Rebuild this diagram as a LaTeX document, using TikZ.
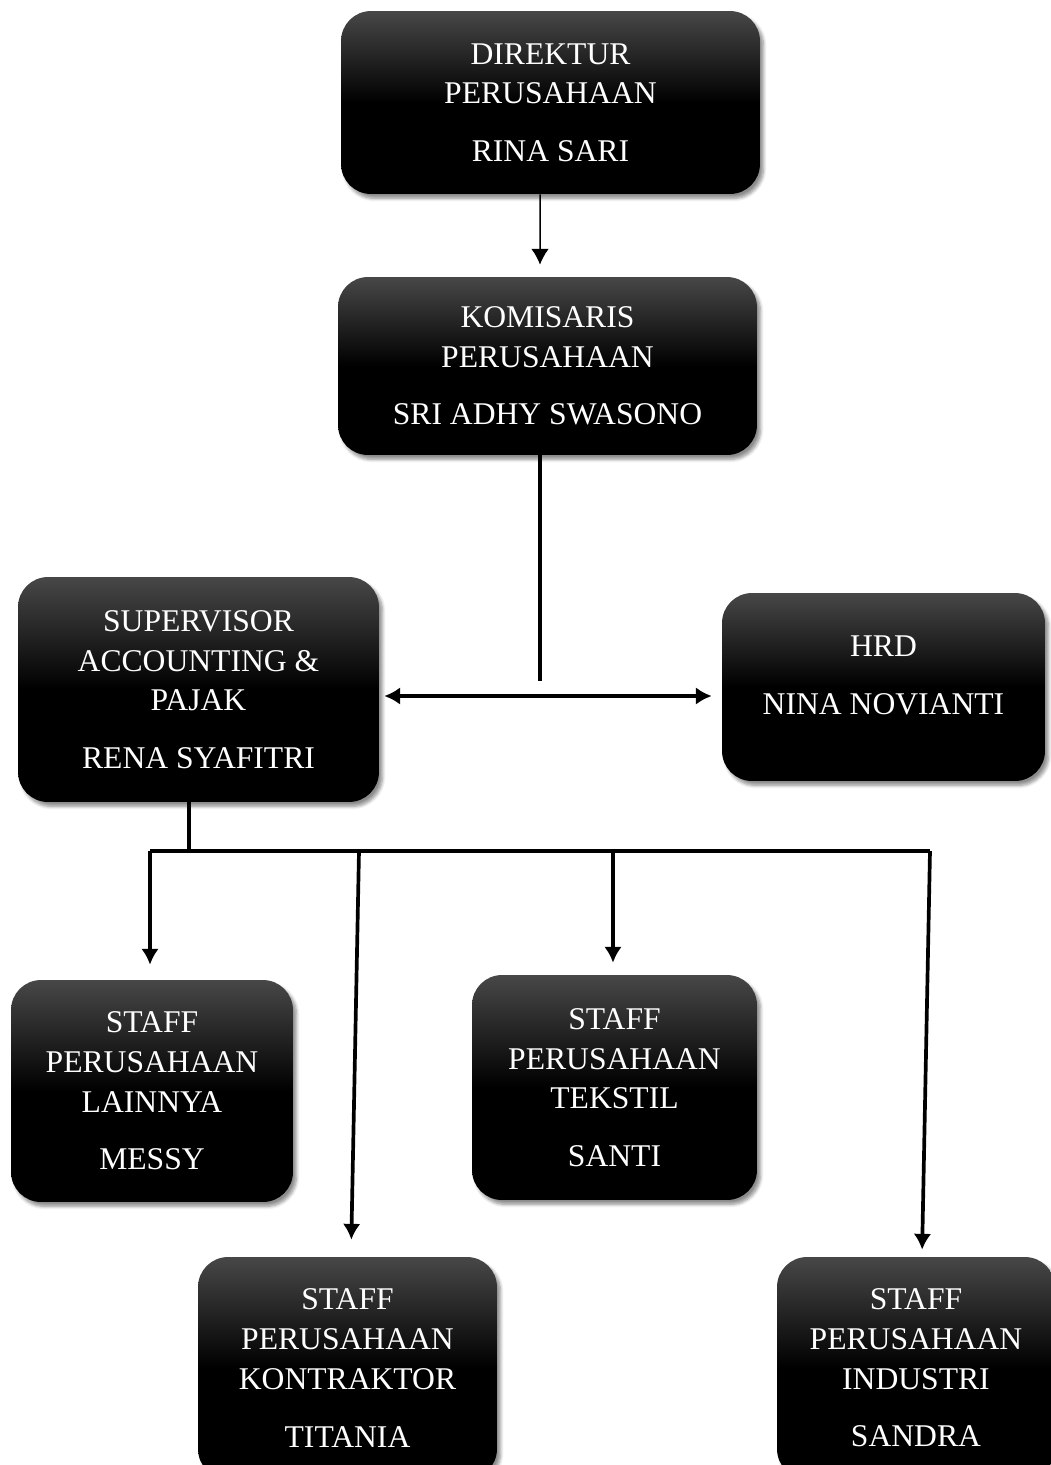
\documentclass[tikz,border=0pt]{standalone}
\usepackage{fontspec}
\setmainfont{Liberation Serif}
\usetikzlibrary{arrows.meta,shadows.blur}

\tikzset{
  box/.style={rounded corners=0.6cm, top color=black!72, bottom color=black, middle color=black,
    text=white, align=center, font=\fontsize{18}{22.7}\selectfont,
    blur shadow={shadow xshift=2pt, shadow yshift=-2.5pt, shadow blur steps=6, shadow opacity=45}},
  thinline/.style={line width=0.85pt},
  thickline/.style={line width=2.1pt},
  >={Latex[length=9pt,width=10pt]}
}

\begin{document}
\begin{tikzpicture}[x=0.02cm, y=-0.02cm]
        \useasboundingbox (0,0) rectangle (1051,1465);
        % Direktur
        \node (dir) [box, minimum width=8.38cm, minimum height=3.66cm] at (550.5,102.5)
              {DIREKTUR\\PERUSAHAAN\\[10pt]RINA SARI};
        % Komisaris
        \node (kom) [box, minimum width=8.38cm, minimum height=3.56cm] at (547.5,366)
              {KOMISARIS\\PERUSAHAAN\\[10pt]SRI ADHY SWASONO};
        \draw[thinline, ->] ([xshift=-0.21cm]dir.south) -- ([xshift=-0.15cm, yshift=0.24cm]kom.north);
        % Supervisor
        \node (sup) [box, minimum width=7.22cm, minimum height=4.5cm] at (198.5,689.5)
              {SUPERVISOR\\ACCOUNTING \&\\PAJAK\\[10pt]RENA SYAFITRI};
        % HRD
        \node (hrd) [box, minimum width=6.46cm, minimum height=3.76cm] at (883.5,687)
              {HRD\\[10pt]NINA NOVIANTI\\[-9pt]};
        % Komisaris to supervisor and HRD
        \coordinate (mid) at (540,696);
        \draw[thickline] (kom.south -| mid) -- ([yshift=0.3cm]mid);
        \draw[thickline, <->, shorten <=0.1cm, shorten >=0.2cm] (sup.east |- mid) -- (hrd.west |- mid);
        % Staff
        \node (lain) [box, minimum width=5.64cm, minimum height=4.44cm] at (152,1091)
              {STAFF\\PERUSAHAAN\\LAINNYA\\[10pt]MESSY};
        \node (teks) [box, minimum width=5.7cm, minimum height=4.5cm] at (614.5,1087.5)
              {STAFF\\PERUSAHAAN\\TEKSTIL\\[10pt]SANTI};
        \node (kon) [box, minimum width=5.98cm, minimum height=4.44cm] at (347.5,1368)
              {STAFF\\PERUSAHAAN\\KONTRAKTOR\\[10pt]TITANIA};
        \node (ind) [box, minimum width=5.56cm, minimum height=4.44cm] at (916,1368)
              {STAFF\\PERUSAHAAN\\INDUSTRI\\[10pt]SANDRA};
        % Supervisor to staff
        \coordinate (b1) at (150,851);
        \coordinate (b2) at (359,851);
        \coordinate (b3) at (613,851);
        \coordinate (b4) at (930,851);
        \draw[thickline] (sup.south -| 189,0) -- (189,853);
        \draw[thickline] (b1) -- (b4);
        \draw[thickline, ->, shorten >=0.3cm] (b1) -- (lain.north -| b1);
        \draw[thickline, ->, shorten >=0.34cm] (b2) -- ([xshift=0.07cm]kon.north);
        \draw[thickline, ->, shorten >=0.24cm] (b3) -- (teks.north -| b3);
        \draw[thickline, ->, shorten >=0.14cm] (b4) -- ([xshift=0.12cm]ind.north);
    \end{tikzpicture}
\end{document}
